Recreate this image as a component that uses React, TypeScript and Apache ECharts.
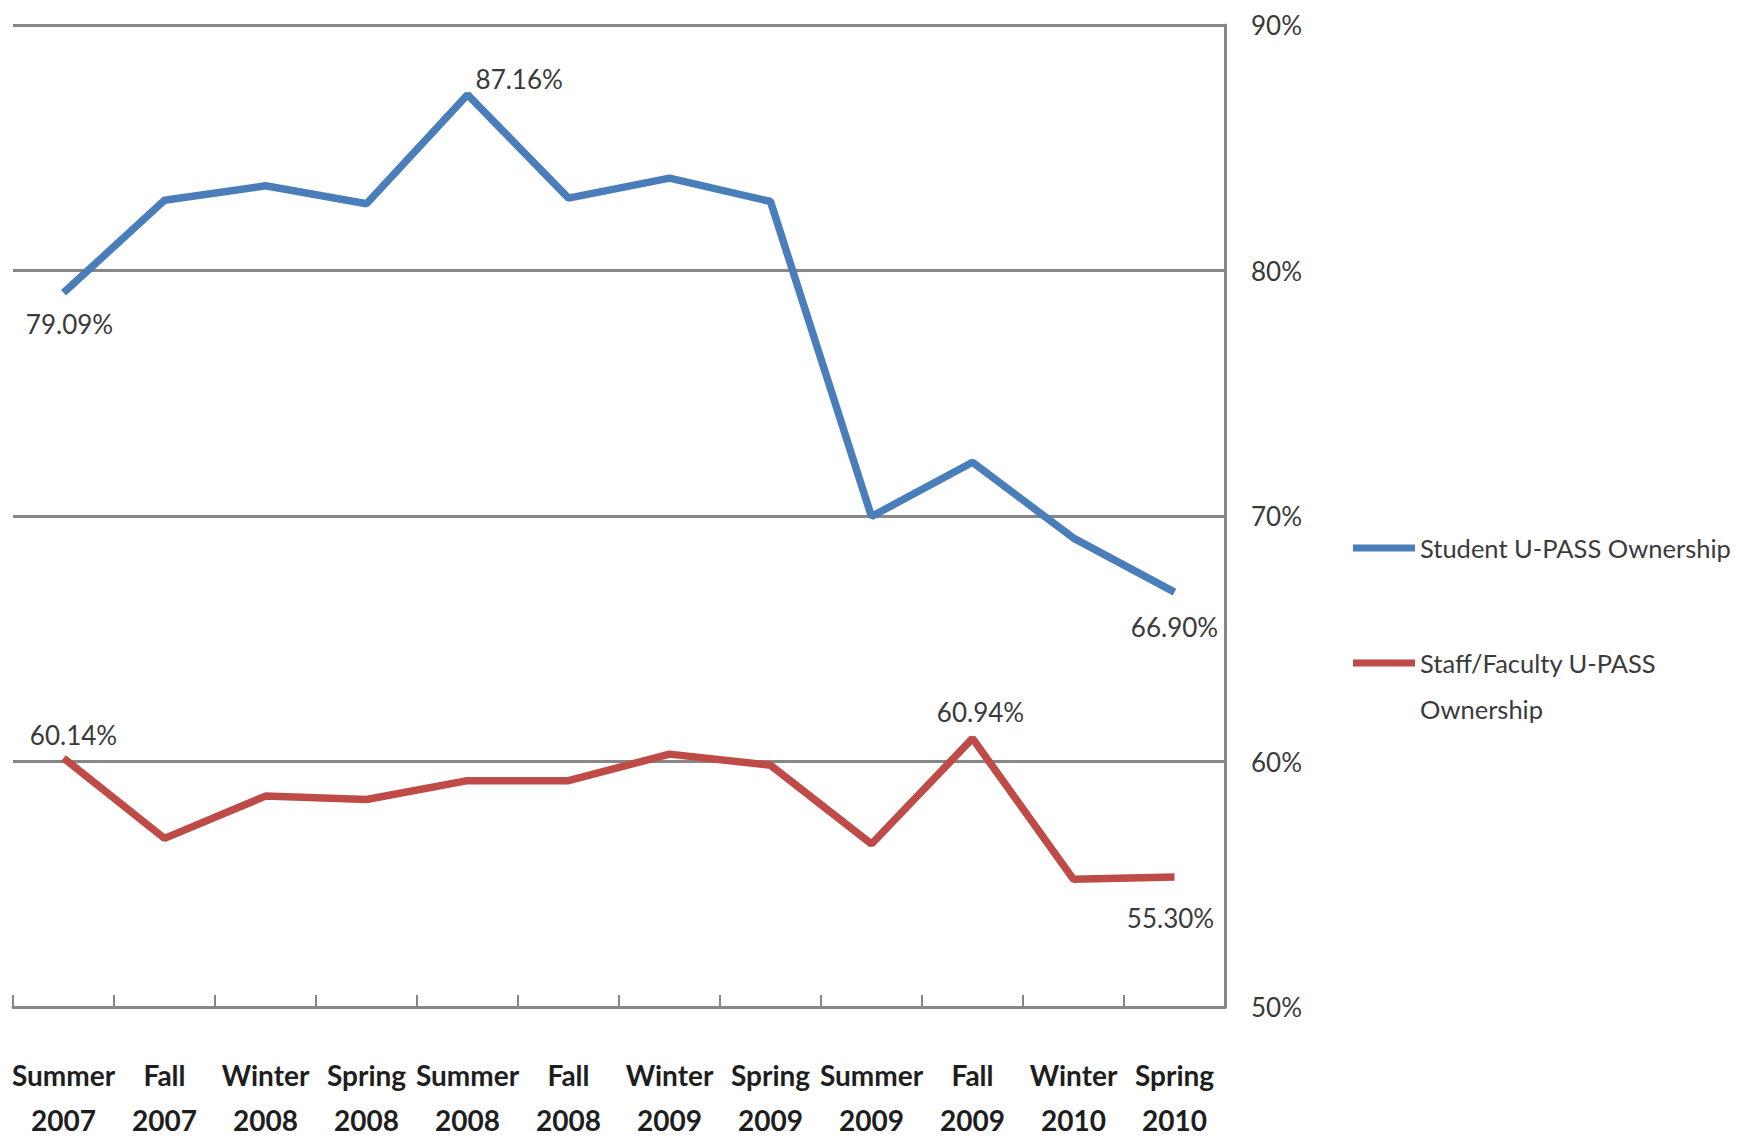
import React, { useEffect, useRef } from "react";
import * as echarts from "echarts";

const categories = [
  "Summer 2007", "Fall 2007", "Winter 2008", "Spring 2008", "Summer 2008", "Fall 2008",
  "Winter 2009", "Spring 2009", "Summer 2009", "Fall 2009", "Winter 2010", "Spring 2010",
];
const studentValues = [79.09, 82.86, 83.45, 82.72, 87.16, 82.95, 83.76, 82.81, 69.98, 72.19, 69.1, 66.9];
const staffValues = [60.14, 56.87, 58.59, 58.45, 59.22, 59.22, 60.3, 59.85, 56.64, 60.94, 55.2, 55.3];
const studentName = "Student U-PASS Ownership";
const staffName = "Staff/Faculty U-PASS Ownership";
const yTicks = [50, 60, 70, 80, 90];

// indices of labelled points and label placement
const studentLabels: Record<number, any> = {
  0: { position: "bottom", distance: 18, offset: [6, 0] },
  4: { position: "right", distance: 8, offset: [0, -16] },
  11: { position: "bottom", distance: 22, offset: [0, 0] },
};
const staffLabels: Record<number, any> = {
  0: { position: "top", distance: 10, offset: [10, 0] },
  9: { position: "top", distance: 13, offset: [8, 0] },
  11: { position: "bottom", distance: 28, offset: [-4, 0] },
};

const FONT = "Lato, 'Liberation Sans', sans-serif";
const GRID_COLOR = "#878787";
const TEXT_COLOR = "#3a3a3a";

function buildData(values: number[], labels: Record<number, any>) {
  return values.map((v, i) => {
    const l = labels[i];
    if (!l) return { value: v, label: { show: false } };
    return {
      value: v,
      label: {
        show: true,
        ...l,
        formatter: (p: any) => Number(p.value).toFixed(2) + "%",
        fontFamily: FONT,
        fontSize: 26,
        color: TEXT_COLOR,
      },
    };
  });
}

export default function App() {
  const ref = useRef<HTMLDivElement>(null);
  useEffect(() => {
    if (!ref.current) return;
    const chart = echarts.init(ref.current, undefined, { renderer: "svg" });
    chart.setOption({
      animation: false,
      backgroundColor: "#ffffff",
      grid: { left: 13, right: 1754 - 1225, top: 25, bottom: 1142 - 1017, containLabel: false },
      legend: [
        {
          data: [studentName],
          orient: "vertical",
          left: 1348,
          top: 520,
          icon: "rect",
          itemWidth: 62,
          itemHeight: 7,
          selectedMode: false,
          textStyle: { fontFamily: FONT, fontSize: 25.5, color: TEXT_COLOR, lineHeight: 46 },
        },
        {
          data: [staffName],
          orient: "vertical",
          left: 1348,
          top: 589,
          icon: "rect",
          itemWidth: 62,
          itemHeight: 7,
          selectedMode: false,
          formatter: () => "\nStaff/Faculty U-PASS\nOwnership",
          textStyle: {
            fontFamily: FONT,
            fontSize: 25.5,
            color: TEXT_COLOR,
            lineHeight: 46,
          },
        },
      ],
      xAxis: {
        type: "category",
        data: categories,
        boundaryGap: true,
        axisLine: { show: true, lineStyle: { color: GRID_COLOR, width: 3 } },
        axisTick: { show: true, inside: true, length: 12, lineStyle: { color: GRID_COLOR, width: 2 } },
        axisLabel: {
          interval: 0,
          margin: 45,
          formatter: (v: string) => v.replace(" ", "\n"),
          fontFamily: FONT,
          fontSize: 28,
          fontWeight: "bold",
          lineHeight: 45,
          color: "#1e1e1e",
        },
        splitLine: { show: false },
      },
      yAxis: {
        type: "value",
        position: "right",
        min: yTicks[0],
        max: yTicks[yTicks.length - 1],
        interval: 10,
        axisLine: { show: true, lineStyle: { color: GRID_COLOR, width: 3 } },
        axisTick: { show: false },
        axisLabel: {
          margin: 26,
          formatter: "{value}%",
          fontFamily: FONT,
          fontSize: 26,
          color: TEXT_COLOR,
        },
        splitLine: { show: true, lineStyle: { color: GRID_COLOR, width: 3 } },
      },
      series: [
        {
          name: studentName,
          type: "line",
          data: buildData(studentValues, studentLabels),
          symbol: "circle",
          symbolSize: 0.1,
          itemStyle: { color: "#4a7ebb" },
          lineStyle: { color: "#4a7ebb", width: 7.5 },
          z: 3,
        },
        {
          name: staffName,
          type: "line",
          data: buildData(staffValues, staffLabels),
          symbol: "circle",
          symbolSize: 0.1,
          itemStyle: { color: "#be4b48" },
          lineStyle: { color: "#be4b48", width: 7.5 },
          z: 3,
        },
      ],
    });
    return () => chart.dispose();
  }, []);
  return (
    <div
      ref={ref}
      style={{ position: "fixed", left: 0, top: 0, width: 1754, height: 1142, background: "#fff" }}
    />
  );
}
